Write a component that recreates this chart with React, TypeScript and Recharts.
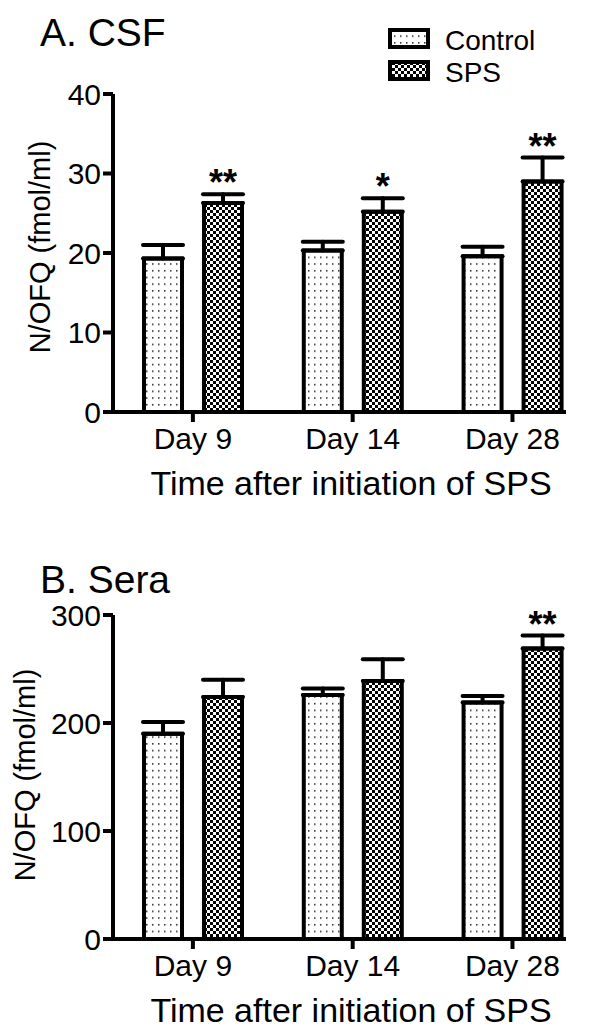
import { BarChart, Bar, XAxis, YAxis, ErrorBar, LabelList, Legend } from "recharts"

const days = ["Day 9", "Day 14", "Day 28"]

// A. CSF, fmol/ml (mean, SEM)
const csfControl = [19.3, 20.3, 19.6]
const csfControlSem = [1.7, 1.1, 1.2]
const csfSps = [26.3, 25.2, 29.0]
const csfSpsSem = [1.1, 1.7, 3.0]
const csfStars = ["**", "*", "**"]
const csfTicks = [0, 10, 20, 30, 40]

// B. Sera, fmol/ml (mean, SEM)
const seraControl = [190, 226, 219]
const seraControlSem = [11, 6, 6]
const seraSps = [224, 239, 269]
const seraSpsSem = [16, 20, 12]
const seraStars = ["", "", "**"]
const seraTicks = [0, 100, 200, 300]

const axisStyle = { stroke: "#000", strokeWidth: 4 }
const tickStyle = { fontSize: 30, fill: "#000" }

interface PanelProps {
  id: string
  title: string
  top: number
  height: number
  marginTop: number
  marginBottom: number
  control: number[]
  controlSem: number[]
  sps: number[]
  spsSem: number[]
  stars: string[]
  yTicks: number[]
  yLabelX: number
  yLabelY: number
  xTitleY: number
  titleTop: number
  legend?: boolean
}

function renderLegend({ payload }: any) {
  return (
    <svg width={170} height={70}>
      {(payload || []).map((p: any, i: number) => (
        <g key={p.value}>
          <rect x={10} y={10 + i * 32} width={38} height={17} fill={p.color} stroke="#000" strokeWidth={4} />
          <text x={65} y={30 + i * 32} fontSize={28} fill="#000">
            {p.value}
          </text>
        </g>
      ))}
    </svg>
  )
}

function Panel(props: PanelProps) {
  const { id, control, controlSem, sps, spsSem, stars, yTicks } = props
  const data = days.map((d, i) => ({
    pos: i + 1,
    day: d,
    control: control[i],
    controlErr: [0, controlSem[i]],
    sps: sps[i],
    spsErr: [0, spsSem[i]],
    stars: stars[i],
  }))

  return (
    <div style={{ position: "absolute", left: 0, top: props.top, width: 600, height: props.height }}>
      <div
        style={{ position: "absolute", left: 40, top: props.titleTop, fontSize: 39, lineHeight: "34px", whiteSpace: "nowrap" }}
      >
        {props.title}
      </div>
      <BarChart
        width={600}
        height={props.height}
        data={data}
        barGap={22}
        margin={{ top: props.marginTop, right: 34, bottom: props.marginBottom, left: 0 }}
      >
        <defs>
          <pattern id={`${id}-dots`} width={6} height={6.7} patternUnits="userSpaceOnUse">
            <rect width={6} height={6.7} fill="#fff" />
            <rect x={2} y={2} width={1.5} height={1.5} fill="#222" />
          </pattern>
          <pattern id={`${id}-checker`} width={6} height={6} patternUnits="userSpaceOnUse">
            <rect width={6} height={6} fill="#fff" />
            <rect width={3} height={3} fill="#000" />
            <rect x={3} y={3} width={3} height={3} fill="#000" />
          </pattern>
        </defs>
        <XAxis
          dataKey="pos"
          type="number"
          domain={[0.5, 3.335]}
          ticks={[1, 2, 3]}
          tickFormatter={(v) => days[v - 1]}
          height={80}
          tickSize={10}
          tickMargin={6}
          axisLine={axisStyle}
          tickLine={axisStyle}
          tick={tickStyle}
          label={() => (
            <text x={351} y={props.xTitleY} textAnchor="middle" fontSize={34} fill="#000">
              Time after initiation of SPS
            </text>
          )}
        />
        <YAxis
          width={113}
          domain={[0, yTicks[yTicks.length - 1]]}
          ticks={yTicks}
          tickSize={10}
          tickMargin={2}
          axisLine={axisStyle}
          tickLine={axisStyle}
          tick={tickStyle}
          label={() => (
            <text
              x={props.yLabelX}
              y={props.yLabelY}
              transform={`rotate(-90 ${props.yLabelX} ${props.yLabelY})`}
              textAnchor="middle"
              fontSize={29}
              fill="#000"
            >
              N/OFQ (fmol/ml)
            </text>
          )}
        />
        {props.legend && (
          <Legend
            layout="vertical"
            align="center"
            verticalAlign="middle"
            wrapperStyle={{ position: "absolute", left: 380, top: 20, width: 170, height: 70 }}
            content={renderLegend}
          />
        )}
        <Bar
          dataKey="control"
          name="Control"
          fill={`url(#${id}-dots)`}
          stroke="#000"
          strokeWidth={4}
          barSize={38}
          isAnimationActive={false}
        >
          <ErrorBar dataKey="controlErr" direction="y" width={20} stroke="#000" strokeWidth={4} strokeLinecap="round" />
        </Bar>
        <Bar
          dataKey="sps"
          name="SPS"
          fill={`url(#${id}-checker)`}
          stroke="#000"
          strokeWidth={4}
          barSize={38}
          isAnimationActive={false}
        >
          <ErrorBar dataKey="spsErr" direction="y" width={20} stroke="#000" strokeWidth={4} strokeLinecap="round" />
          <LabelList
            dataKey="stars"
            content={(p: any) => {
              if (!p.value) return null
              const vb = p.viewBox ?? p
              const i = p.index
              const unit = vb.height / sps[i]
              const capY = vb.y - spsSem[i] * unit
              return (
                <text x={vb.x + vb.width / 2} y={capY + 1} textAnchor="middle" fontSize={36} fontWeight="bold" fill="#000">
                  {p.value}
                </text>
              )
            }}
          />
        </Bar>
      </BarChart>
    </div>
  )
}

export default function App() {
  return (
    <div
      style={{
        position: "absolute",
        left: 0,
        top: 0,
        width: 600,
        height: 1034,
        background: "#fff",
        fontFamily: "'Liberation Sans', Arial, sans-serif",
      }}
    >
      <Panel
        id="csf"
        title="A. CSF"
        top={0}
        height={520}
        marginTop={94}
        marginBottom={28}
        control={csfControl}
        controlSem={csfControlSem}
        sps={csfSps}
        spsSem={csfSpsSem}
        stars={csfStars}
        yTicks={csfTicks}
        yLabelX={49.5}
        yLabelY={247}
        xTitleY={495}
        titleTop={16}
        legend
      />
      <Panel
        id="sera"
        title="B. Sera"
        top={520}
        height={514}
        marginTop={95}
        marginBottom={15}
        control={seraControl}
        controlSem={seraControlSem}
        sps={seraSps}
        spsSem={seraSpsSem}
        stars={seraStars}
        yTicks={seraTicks}
        yLabelX={35}
        yLabelY={255}
        xTitleY={502}
        titleTop={43}
      />
    </div>
  )
}
